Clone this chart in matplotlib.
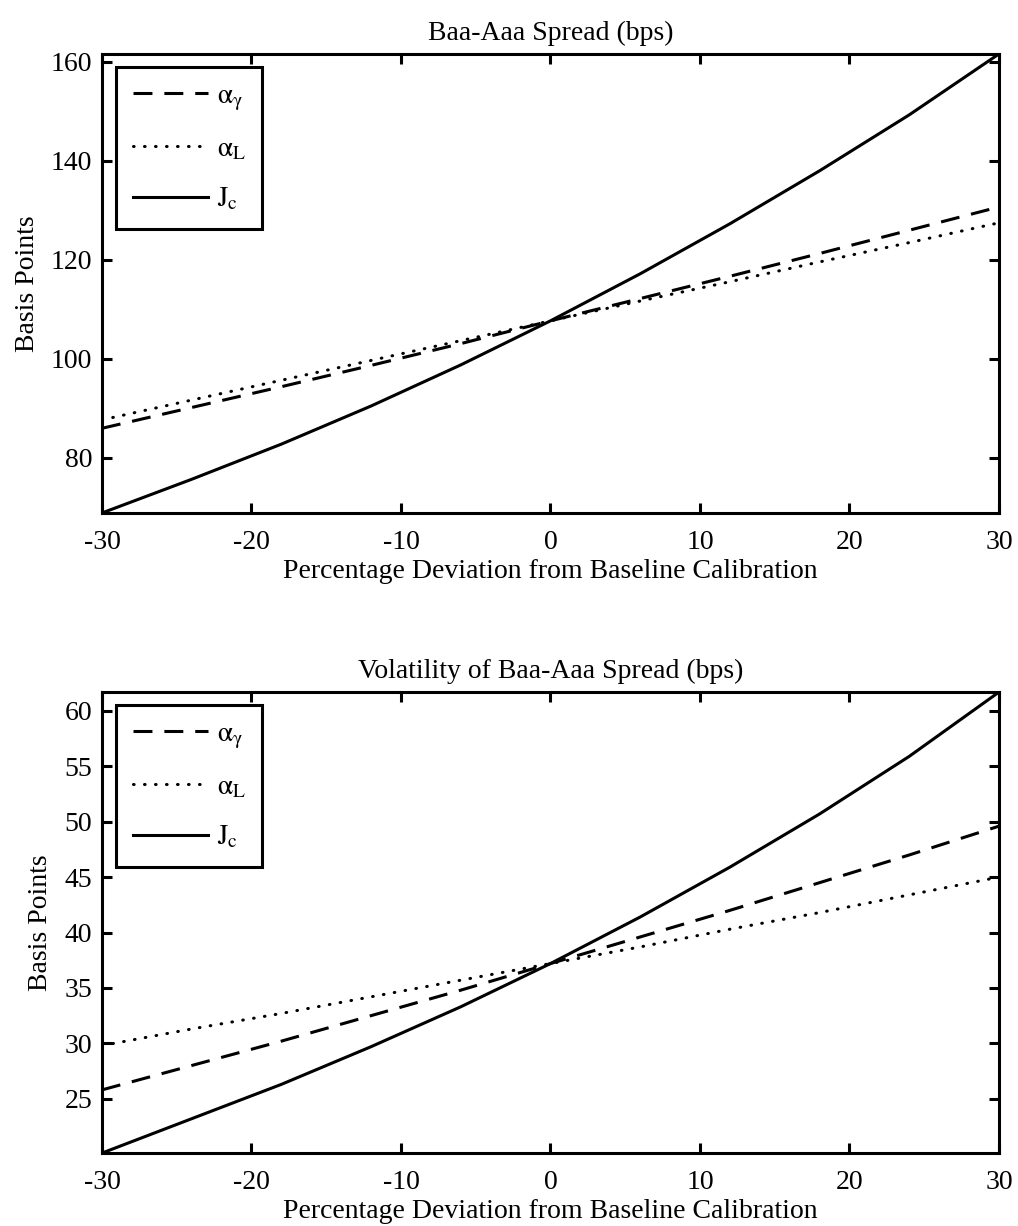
import matplotlib
matplotlib.use("Agg")
import matplotlib.pyplot as plt

# percentage deviation from baseline calibration
deviation = [-30, -24, -18, -12, -6, 0, 6, 12, 18, 24, 30]

# Baa-Aaa spread (bps)
spread_alpha_gamma = [86.0, 90.2, 94.4, 98.7, 103.1, 107.7, 112.2, 116.7, 121.3, 126.0, 130.7]
spread_alpha_L = [87.7, 91.7, 95.7, 99.7, 103.7, 107.7, 111.7, 115.6, 119.6, 123.5, 127.5]
spread_J_c = [68.9, 75.7, 82.8, 90.5, 98.8, 107.7, 117.2, 127.3, 138.0, 149.3, 161.6]

# volatility of Baa-Aaa spread (bps)
vol_alpha_gamma = [25.8, 28.0, 30.2, 32.5, 34.8, 37.2, 39.6, 42.0, 44.5, 47.0, 49.6]
vol_alpha_L = [29.8, 31.3, 32.7, 34.2, 35.7, 37.2, 38.7, 40.3, 41.8, 43.4, 45.0]
vol_J_c = [20.1, 23.2, 26.3, 29.7, 33.3, 37.2, 41.4, 45.9, 50.7, 55.9, 61.7]

x_ticks = [-30, -20, -10, 0, 10, 20, 30]
spread_yticks = [80, 100, 120, 140, 160]
vol_yticks = [25, 30, 35, 40, 45, 50, 55, 60]

titles = ["Baa-Aaa Spread (bps)", "Volatility of Baa-Aaa Spread (bps)"]
labels = [r"$\mathrm{\alpha_\gamma}$", r"$\mathrm{\alpha_L}$", r"$\mathrm{J_c}$"]

plt.rcParams["font.family"] = ["Liberation Serif", "DejaVu Serif"]
plt.rcParams["mathtext.fontset"] = "stix"
plt.rcParams["axes.unicode_minus"] = False

LW = 2.2
FS = 20

fig = plt.figure(figsize=(10.18, 12.26), dpi=100)
ax_top = fig.add_axes([0.1002, 0.5816, 0.8811, 0.3744])
ax_bot = fig.add_axes([0.1002, 0.0595, 0.8811, 0.3760])

panels = [
    (ax_top, spread_alpha_gamma, spread_alpha_L, spread_J_c, spread_yticks),
    (ax_bot, vol_alpha_gamma, vol_alpha_L, vol_J_c, vol_yticks),
]

for (ax, a_g, a_l, j_c, yt), title in zip(panels, titles):
    ax.plot(deviation, a_g, color="black", lw=LW, linestyle=(0, (6.2, 3.9)), label=labels[0])
    ax.plot(deviation, a_l, color="black", lw=LW, linestyle=(0, (0.2, 3.4)),
            dash_capstyle="round", label=labels[1])
    ax.plot(deviation, j_c, color="black", lw=LW, label=labels[2])

    ax.set_xlim(deviation[0], deviation[-1])
    ax.set_ylim(min(j_c), max(j_c))
    ax.set_xticks(x_ticks)
    ax.set_yticks(yt)
    ax.tick_params(direction="in", length=7, width=LW, top=True, right=True,
                   labelsize=FS)
    ax.tick_params(axis="x", pad=12)
    ax.tick_params(axis="y", pad=7)
    for sp in ax.spines.values():
        sp.set_linewidth(LW)

    ax.set_title(title, fontsize=FS, pad=10)
    ax.set_xlabel("Percentage Deviation from Baseline Calibration", fontsize=FS, labelpad=3)
    ax.set_ylabel("Basis Points", fontsize=FS, labelpad=8)

    leg = ax.legend(loc="upper left", bbox_to_anchor=(0.0156, 0.972), borderaxespad=0,
                    fontsize=FS, handlelength=2.7, handletextpad=0.32, labelspacing=0.85,
                    fancybox=False, framealpha=1, edgecolor="black", borderpad=0.6)
    leg.get_frame().set_linewidth(LW)

fig.savefig("out.png", dpi=100)
